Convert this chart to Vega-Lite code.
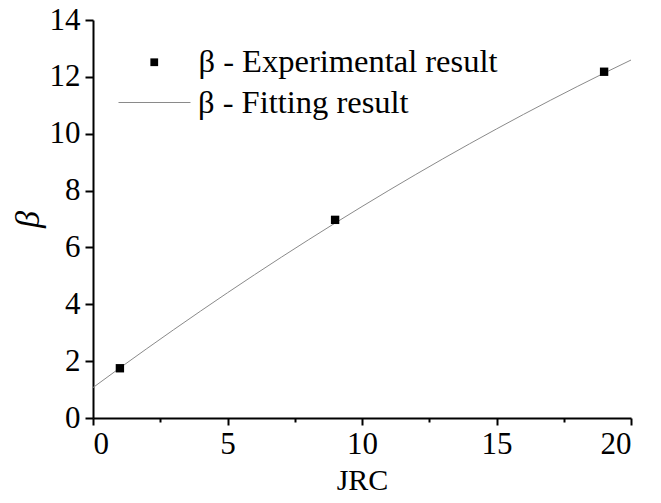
{
  "$schema": "https://vega.github.io/schema/vega-lite/v6.json",
  "width": 538,
  "height": 398,
  "autosize": {"type": "none"},
  "padding": {"left": 93, "top": 20, "right": 30, "bottom": 85},
  "background": "white",
  "config": {
    "view": {"stroke": null},
    "font": "Liberation Serif"
  },
  "datasets": {
    "exp": [
      {"JRC": 1, "beta": 1.75},
      {"JRC": 9, "beta": 6.97},
      {"JRC": 19, "beta": 12.18}
    ],
    "fit": [
      {"JRC": 0, "beta": 1.07},
      {"JRC": 1, "beta": 1.761},
      {"JRC": 2, "beta": 2.44},
      {"JRC": 3, "beta": 3.107},
      {"JRC": 4, "beta": 3.762},
      {"JRC": 5, "beta": 4.406},
      {"JRC": 6, "beta": 5.037},
      {"JRC": 7, "beta": 5.656},
      {"JRC": 8, "beta": 6.262},
      {"JRC": 9, "beta": 6.857},
      {"JRC": 10, "beta": 7.439},
      {"JRC": 11, "beta": 8.009},
      {"JRC": 12, "beta": 8.567},
      {"JRC": 13, "beta": 9.113},
      {"JRC": 14, "beta": 9.646},
      {"JRC": 15, "beta": 10.168},
      {"JRC": 16, "beta": 10.677},
      {"JRC": 17, "beta": 11.174},
      {"JRC": 18, "beta": 11.659},
      {"JRC": 19, "beta": 12.132},
      {"JRC": 20, "beta": 12.592}
    ]
  },
  "layer": [
    {
      "data": {"name": "fit"},
      "mark": {"type": "line", "strokeWidth": 1, "interpolate": "monotone"},
      "encoding": {
        "x": {
          "field": "JRC",
          "type": "quantitative",
          "scale": {"domain": [0, 20], "nice": false, "zero": false},
          "axis": {
            "grid": false,
            "domainColor": "black",
            "domainWidth": 2,
            "tickColor": "black",
            "tickWidth": 2,
            "labelFont": "Liberation Serif",
            "labelFontSize": 31,
            "labelColor": "black",
            "titleFont": "Liberation Serif",
            "titleColor": "black",
            "titleFontWeight": "normal",
            "title": "JRC",
            "titleFontSize": 30,
            "titlePadding": 6,
            "values": [0, 2.5, 5, 7.5, 10, 12.5, 15, 17.5, 20],
            "labelExpr": "datum.value % 5 === 0 ? datum.label : ''",
            "tickSize": {"condition": {"test": "datum.value % 5 !== 0", "value": 4}, "value": 7},
            "labelPadding": 4
          }
        },
        "y": {
          "field": "beta",
          "type": "quantitative",
          "scale": {"domain": [0, 14], "nice": false},
          "axis": {
            "grid": false,
            "domainColor": "black",
            "domainWidth": 2,
            "tickColor": "black",
            "tickWidth": 2,
            "labelFont": "Liberation Serif",
            "labelFontSize": 31,
            "labelColor": "black",
            "titleFont": "Liberation Serif",
            "titleColor": "black",
            "titleFontWeight": "normal",
            "title": "β",
            "titleFontSize": 34,
            "titleFontStyle": "italic",
            "titlePadding": 4,
            "values": [0, 2, 4, 6, 8, 10, 12, 14],
            "tickSize": 8,
            "labelPadding": 5
          }
        },
        "color": {
          "datum": "β - Fitting result",
          "type": "nominal",
          "scale": {"domain": ["β - Fitting result"], "range": ["#8a8a8a"]},
          "legend": {
            "title": null,
            "orient": "none",
            "legendX": 25,
            "legendY": 46,
            "symbolType": "stroke",
            "symbolSize": 5184,
            "symbolStrokeWidth": 1,
            "labelFont": "Liberation Serif",
            "labelFontSize": 32.5,
            "labelColor": "black",
            "labelLimit": 600,
            "labelOffset": 7
          }
        }
      }
    },
    {
      "data": {"name": "exp"},
      "mark": {"type": "point", "shape": "square", "filled": true, "size": 70, "opacity": 1, "color": "black"},
      "encoding": {
        "x": {"field": "JRC", "type": "quantitative"},
        "y": {"field": "beta", "type": "quantitative"},
        "shape": {
          "datum": "β - Experimental result",
          "type": "nominal",
          "scale": {"domain": ["β - Experimental result"], "range": ["square"]},
          "legend": {
            "title": null,
            "orient": "none",
            "legendX": 45,
            "legendY": 26,
            "symbolSize": 60,
            "symbolFillColor": "black",
            "symbolStrokeColor": "black",
            "symbolStrokeWidth": 0,
            "symbolOpacity": 1,
            "labelFont": "Liberation Serif",
            "labelFontSize": 32.5,
            "labelColor": "black",
            "labelLimit": 600,
            "labelOffset": 28
          }
        }
      }
    }
  ]
}
